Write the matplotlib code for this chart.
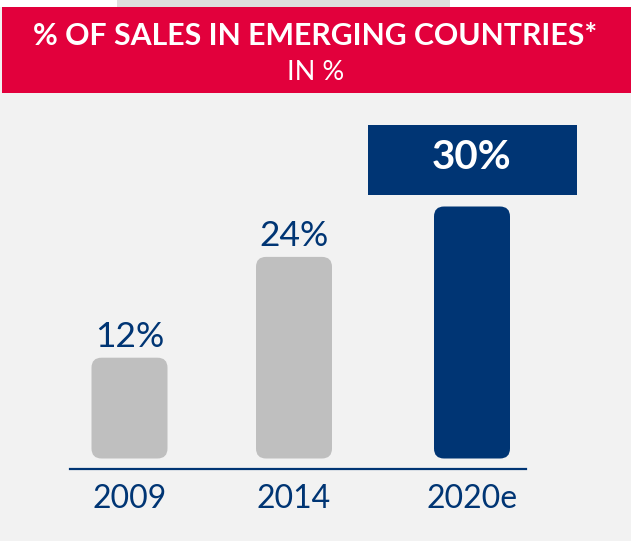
import matplotlib
matplotlib.use("Agg")
import matplotlib.pyplot as plt
from matplotlib.patches import FancyBboxPatch, Rectangle

# ---- data ----
categories = ["2009", "2014", "2020e"]
values = [12, 24, 30]
value_labels = ["12%", "24%", "30%"]
title = "% OF SALES IN EMERGING COUNTRIES*"
subtitle = "IN %"

# ---- style ----
RED = "#e2003c"
NAVY = "#003574"
GRAY = "#bfbfbf"
BG = "#f2f2f2"
FONT = ["Lato", "DejaVu Sans"]
plt.rcParams["font.family"] = FONT

W, H = 631, 541
fig = plt.figure(figsize=(W / 100, H / 100), dpi=100, facecolor=BG)

def fx(px):
    return px / W

def fy(py):
    return 1 - py / H

# top strip and red header
fig.patches.append(Rectangle((0, fy(7)), 1, 7 / H, transform=fig.transFigure,
                             facecolor="white", edgecolor="none", zorder=0))
fig.patches.append(Rectangle((fx(117), fy(7)), fx(450 - 117), 7 / H, transform=fig.transFigure,
                             facecolor="#dedede", edgecolor="none", zorder=0))
fig.patches.append(Rectangle((fx(2), fy(93)), 1, 86 / H, transform=fig.transFigure,
                             facecolor=RED, edgecolor="none", zorder=1))
fig.text(0.5, fy(45), title, ha="center", va="baseline", color="white",
         fontsize=21.8, fontweight="bold")
fig.text(0.5, fy(79.5), subtitle, ha="center", va="baseline", color="white",
         fontsize=19.5)

# ---- axes ----
px_per_x = 171.25
px_per_y = 8.4
zero_px = 458.5
left_px, right_px, base_px, top_px = 70, 526, 469, 100
ax = fig.add_axes([fx(left_px), fy(base_px), fx(right_px - left_px), (base_px - top_px) / H])
ax.set_facecolor("none")
xpos = [0, (294 - 129.5) / px_per_x, 2]
x0 = 129.5
ax.set_xlim(-(x0 - left_px) / px_per_x, (right_px - x0) / px_per_x)
ax.set_ylim(-(base_px - zero_px) / px_per_y, (zero_px - top_px) / px_per_y)

bar_w = 76 / px_per_x
colors = [GRAY, GRAY, NAVY]
bars = ax.bar(xpos, values, width=bar_w, color=colors)
aspect = px_per_x / px_per_y
r = 10 / px_per_x
for b, c in zip(bars, colors):
    x, y = b.get_x(), b.get_y()
    w, h = b.get_width(), b.get_height()
    b.remove()
    ax.add_patch(FancyBboxPatch((x, y), w, h,
                                boxstyle=f"round,pad=0,rounding_size={r}",
                                mutation_aspect=aspect, facecolor=c, edgecolor="none"))

# value labels
for i, (xp, v, lab) in enumerate(zip(xpos, values, value_labels)):
    if i < len(values) - 1:
        ax.annotate(lab, (xp, v), xytext=(0, 11 * 0.72), textcoords="offset points",
                    ha="center", va="baseline", color=NAVY, fontsize=25.5)
    else:
        gap = 12 / px_per_y
        bh = 70 / px_per_y
        bw = 209 / px_per_x
        ax.add_patch(Rectangle((xp - bw / 2, v + gap), bw, bh, facecolor=NAVY,
                               edgecolor="none", clip_on=False))
        ax.text(xp, v + gap + bh / 2 + 2 / px_per_y, lab, ha="center", va="center",
                color="white", fontsize=29, fontweight="bold")

ax.set_xticks(xpos)
ax.set_xticklabels(categories, fontsize=23, color=NAVY)
ax.tick_params(axis="x", length=0, pad=11)
ax.set_yticks([])
for s in ["left", "right", "top"]:
    ax.spines[s].set_visible(False)
ax.spines["bottom"].set_color(NAVY)
ax.spines["bottom"].set_linewidth(1.6)

fig.savefig("out.png", dpi=100, facecolor=BG)
